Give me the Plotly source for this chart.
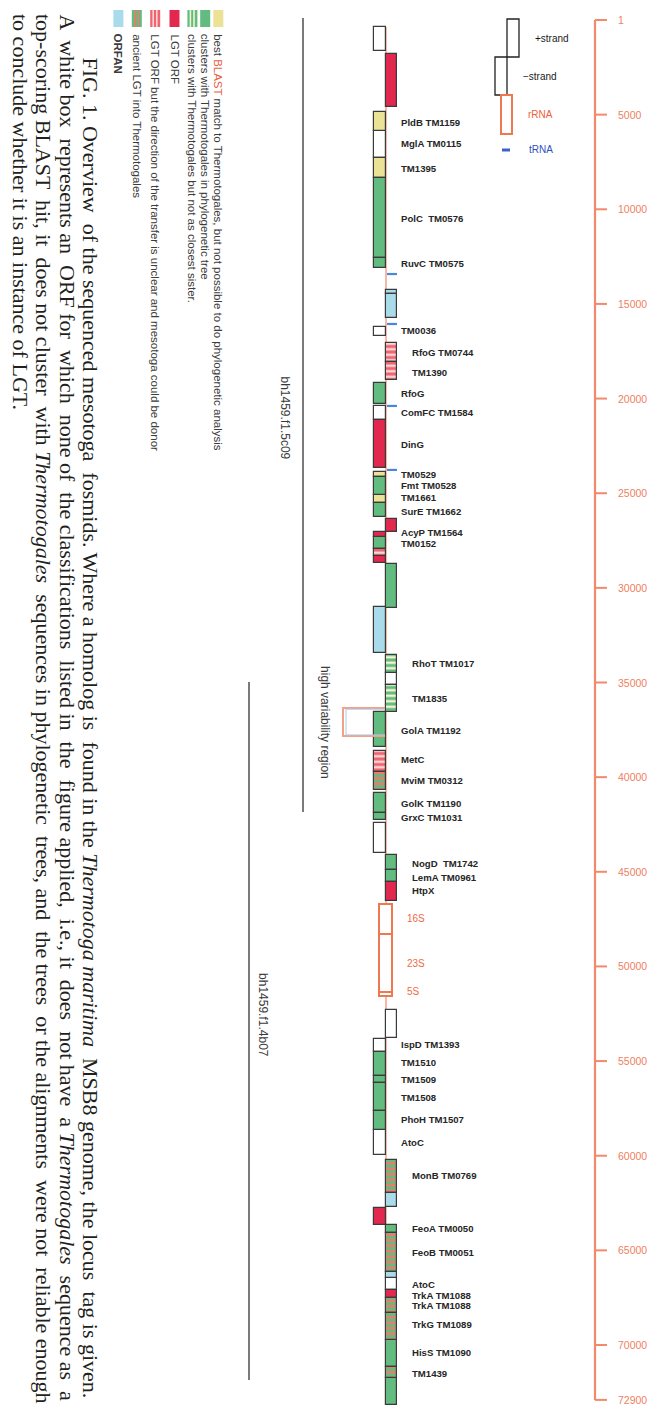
import plotly.graph_objects as go

W, H = 647, 1407

# ---------------- data (genomic positions in bp) ----------------
gene_start = [370, 1800, 4860, 5860, 7290, 8350, 12570, 14260, 14480, 16220,
              17060, 18070, 19180, 20390, 21130, 23880, 24140, 25090, 25520, 26360,
              27050, 27310, 27950, 28320, 28740, 31010, 33550, 34500, 35130, 36560,
              38620, 39730, 40840, 41890, 42420, 44110, 44910, 45540, 52300, 53830,
              54520, 55790, 56160, 57640, 58640, 60230, 61970, 62760, 63660, 64080,
              66140, 66460, 67090, 67520, 68310, 69740, 71160, 71740]
gene_end = [1640, 4600, 5860, 7290, 8350, 12570, 13100, 14480, 15740, 16690,
            18070, 19020, 20290, 21130, 23670, 24140, 25090, 25520, 26260, 27050,
            27310, 27950, 28320, 28690, 31060, 33440, 34500, 35130, 36560, 38410,
            39730, 40680, 41890, 42260, 44010, 44910, 45540, 46540, 53780, 54520,
            55790, 56160, 57640, 58640, 59960, 61970, 62710, 63660, 64080, 66140,
            66460, 67090, 67520, 68310, 69740, 71160, 71740, 73170]
gene_strand = ["-", "+", "-", "-", "-", "-", "-", "+", "+", "-",
               "+", "+", "-", "-", "-", "-", "-", "-", "-", "+",
               "-", "-", "-", "-", "+", "-", "+", "+", "+", "-",
               "-", "-", "-", "-", "-", "+", "+", "+", "+", "-",
               "-", "-", "-", "-", "-", "+", "+", "-", "+", "+",
               "+", "+", "+", "+", "+", "+", "+", "+"]
gene_class = ["none", "lgt", "blast", "none", "blast", "tree", "tree", "orfan", "orfan", "none",
              "unclear", "unclear", "tree", "none", "lgt", "blast", "tree", "blast", "tree", "lgt",
              "lgt", "tree", "unclear", "lgt", "tree", "orfan", "sister", "none", "sister", "tree",
              "unclear", "ancient", "tree", "tree", "none", "tree", "tree", "lgt", "none", "none",
              "tree", "tree", "tree", "tree", "none", "ancient", "orfan", "lgt", "tree", "ancient",
              "orfan", "none", "lgt", "ancient", "ancient", "tree", "ancient", "tree"]

label_text = ["PldB TM1159", "MglA TM0115", "TM1395", "PolC  TM0576", "RuvC TM0575",
              "TM0036", "RfoG TM0744", "TM1390", "RfoG", "ComFC TM1584", "DinG",
              "TM0529", "Fmt TM0528", "TM1661", "SurE TM1662", "AcyP TM1564", "TM0152",
              "RhoT TM1017", "TM1835", "GolA TM1192", "MetC", "MviM TM0312",
              "GolK TM1190", "GrxC TM1031", "NogD  TM1742", "LemA TM0961", "HtpX",
              "IspD TM1393", "TM1510", "TM1509", "TM1508", "PhoH TM1507", "AtoC",
              "MonB TM0769", "FeoA TM0050", "FeoB TM0051", "AtoC", "TrkA TM1088",
              "TrkA TM1088", "TrkG TM1089", "HisS TM1090", "TM1439"]
label_pos = [5390, 6500, 7820, 10510, 12840, 16380, 17540, 18600, 19710, 20760, 22400,
             23990, 24570, 25250, 25940, 27100, 27630, 33970, 35820, 37510, 39090, 40200,
             41370, 42110, 44540, 45280, 46010, 54150, 55100, 55950, 56900, 58060, 59280,
             61070, 63870, 65090, 66780, 67360, 67890, 68940, 70370, 71480]
label_strand = ["-", "-", "-", "-", "-", "-", "+", "+", "-", "-", "-",
                "-", "-", "-", "-", "-", "-", "+", "+", "-", "-", "-",
                "-", "-", "+", "+", "+", "-", "-", "-", "-", "-", "-",
                "+", "+", "+", "+", "+", "+", "+", "+", "+"]

trna_pos = [13420, 16060, 20390, 23770]

rrna_name = ["16S", "23S", "5S"]
rrna_start = [46700, 48290, 51350]
rrna_end = [48290, 51350, 51560]
rrna_label_pos = [47490, 49820, 51350]

ruler_ticks = [1, 5000, 10000, 15000, 20000, 25000, 30000, 35000, 40000,
               45000, 50000, 55000, 60000, 65000, 70000, 72900]
ruler_labels = ["1", "5000", "10000", "15000", "20000", "25000", "30000", "35000", "40000",
                "45000", "50000", "55000", "60000", "65000", "70000", "72900"]

fosmid_name = ["bh1459.f1.5c09", "bh1459.f1.4b07"]
fosmid_start = [-100, 34970]
fosmid_end = [41840, 71850]
fosmid_label_pos = [21000, 52570]

hv_start, hv_end = 36350, 37830

legend_class = ["blast", "tree", "sister", "lgt", "unclear", "ancient", "orfan"]
legend_text = [
    "best <span style='color:#e8603f'>BLAST</span> match to Thermotogales, but not possible to do phylogenetic analysis",
    "clusters with Thermotogales in phylogenetic tree",
    "clusters with Thermotogales but not as closest sister.",
    "LGT ORF",
    "LGT ORF but the direction of the transfer is unclear and mesotoga could be donor",
    "ancient LGT into Thermotogales",
    "<b>ORFAN</b>",
]

caption_lines = [
    "FIG. 1. Overview of the sequenced mesotoga fosmids. Where a homolog is found in the <i>Thermotoga maritima</i> MSB8 genome, the locus tag is given.",
    "A white box represents an ORF for which none of the classifications listed in the figure applied, i.e., it does not have a <i>Thermotogales</i> sequence as a",
    "top-scoring BLAST hit, it does not cluster with <i>Thermotogales</i> sequences in phylogenetic trees, and the trees or the alignments were not reliable enough",
    "to conclude whether it is an instance of LGT.",
]

# ---------------- styles ----------------
BP_PER_PX = 52.83
Y_TOP = -20 * BP_PER_PX
Y_BOT = (H - 20) * BP_PER_PX
LANE_X = {"-": 380.2, "+": 391.6}
LANE_W = 11.6
LABEL_X = {"-": 399, "+": 410}
OUTLINE = "#3a3a3a"
SALMON = "#f2896c"

STYLE = {
    "none":    dict(bg="#ffffff", fg=None),
    "blast":   dict(bg="#ebe296", fg=None),
    "tree":    dict(bg="#62bb7f", fg=None),
    "sister":  dict(bg="#62bb7f", fg="#f5f3cf"),
    "lgt":     dict(bg="#e3284f", fg=None),
    "unclear": dict(bg="#ef6470", fg="#fbd4d4"),
    "ancient": dict(bg="#62bb7f", fg="#f2786a"),
    "orfan":   dict(bg="#aadbea", fg=None),
}
# extra non-breaking spaces per caption line to imitate the justified setting
CAP_EXTRA = [5, 15, 9, 0]


def py(px):
    return 1 - px / H


def justify(txt, n_extra):
    parts = txt.split(" ")
    n_sp = len(parts) - 1
    if n_extra <= 0 or n_sp <= 0:
        return txt
    pick = {int((k + 0.5) * n_sp / n_extra) for k in range(n_extra)}
    out = parts[0]
    for i, p in enumerate(parts[1:]):
        out += (" &nbsp;" if i in pick else " ") + p
    return out


fig = go.Figure()

# genes as floating bars
for cls, st in STYLE.items():
    idx = [i for i, c in enumerate(gene_class) if c == cls]
    if not idx:
        continue
    marker = dict(color=st["bg"], line=dict(color=OUTLINE, width=1.2))
    if st["fg"]:
        marker["pattern"] = dict(shape="-", fillmode="replace", bgcolor=st["bg"],
                                 fgcolor=st["fg"], size=5.5, solidity=0.45)
    fig.add_trace(go.Bar(
        x=[LANE_X[gene_strand[i]] for i in idx],
        base=[gene_start[i] for i in idx],
        y=[gene_end[i] - gene_start[i] for i in idx],
        width=LANE_W, marker=marker, hoverinfo="skip", showlegend=False,
    ))

shapes = []
annos = []

# backbone
shapes.append(dict(type="line", xref="x", yref="y", x0=386, x1=386,
                   y0=gene_start[0], y1=gene_end[-1],
                   line=dict(color="#f4a088", width=1.5), layer="below"))

# tRNAs
for p in trna_pos:
    shapes.append(dict(type="line", xref="x", yref="y", x0=387, x1=397, y0=p, y1=p,
                       line=dict(color="#4a86dc", width=2.2)))

# rRNA operon
for nm, s, e, lp in zip(rrna_name, rrna_start, rrna_end, rrna_label_pos):
    shapes.append(dict(type="rect", xref="x", yref="y", x0=379, x1=392, y0=s, y1=e,
                       line=dict(color="#f07850", width=2), fillcolor="white"))
    annos.append(dict(x=405, y=lp, xref="x", yref="y", text=nm, showarrow=False,
                      xanchor="left", yanchor="middle",
                      font=dict(family="Liberation Sans", size=10, color="#f06a45")))

# gene labels
for t, p, s in zip(label_text, label_pos, label_strand):
    annos.append(dict(x=LABEL_X[s], y=p, xref="x", yref="y",
                      text="<b>" + t.replace("  ", "&nbsp;&nbsp;") + "</b>",
                      showarrow=False, xanchor="left", yanchor="middle",
                      font=dict(family="Liberation Sans", size=9.6, color="#262626")))

# ruler
shapes.append(dict(type="line", xref="x", yref="y", x0=595, x1=595,
                   y0=ruler_ticks[0], y1=ruler_ticks[-1], line=dict(color=SALMON, width=2.2)))
for t, lab in zip(ruler_ticks, ruler_labels):
    shapes.append(dict(type="line", xref="x", yref="y", x0=595, x1=607, y0=t, y1=t,
                       line=dict(color=SALMON, width=2)))
    annos.append(dict(x=616, y=t, xref="x", yref="y", text=lab, showarrow=False,
                      xanchor="left", yanchor="middle",
                      font=dict(family="Liberation Sans", size=10.5, color="#f0805f")))

# fosmids
fos_x = [303, 249]
fos_lab_x = [285, 263]
for nm, s, e, lp, fx, lx in zip(fosmid_name, fosmid_start, fosmid_end, fosmid_label_pos, fos_x, fos_lab_x):
    shapes.append(dict(type="line", xref="x", yref="y", x0=fx, x1=fx, y0=s, y1=e,
                       line=dict(color="#333333", width=1.3)))
    annos.append(dict(x=lx, y=lp, xref="x", yref="y", text=nm, showarrow=False,
                      textangle=90, xanchor="center", yanchor="middle",
                      font=dict(family="Liberation Sans", size=12, color="#3a3a3a")))

# high variability region bracket
shapes.append(dict(type="path", xref="x", yref="y",
                   path=f"M 385 {hv_start} L 343 {hv_start} L 343 {hv_end} L 385 {hv_end}",
                   line=dict(color="#f3a088", width=2)))
shapes.append(dict(type="path", xref="x", yref="y",
                   path=f"M 385 {hv_start + 60} L 346 {hv_start + 60} L 346 {hv_end - 60} L 385 {hv_end - 60}",
                   line=dict(color="#a9cbe6", width=1)))
annos.append(dict(x=325, y=(hv_start + hv_end) / 2, xref="x", yref="y",
                  text="high variability region", showarrow=False, textangle=90,
                  xanchor="center", yanchor="middle",
                  font=dict(family="Liberation Sans", size=12, color="#3a3a3a")))

# strand / RNA key
shapes.append(dict(type="rect", xref="x", yref="paper", x0=507, x1=519, y0=py(19), y1=py(57),
                   line=dict(color="#222", width=1.3)))
shapes.append(dict(type="rect", xref="x", yref="paper", x0=495, x1=507, y0=py(57), y1=py(95),
                   line=dict(color="#222", width=1.3)))
shapes.append(dict(type="rect", xref="x", yref="paper", x0=501, x1=512, y0=py(95), y1=py(134),
                   line=dict(color="#f07850", width=2)))
shapes.append(dict(type="line", xref="x", yref="paper", x0=502, x1=510, y0=py(150), y1=py(150),
                   line=dict(color="#3c62c8", width=3)))
for t, x, y, c in [("+strand", 533, 38, "#1a1a1a"), ("\u2212strand", 521, 77, "#1a1a1a"),
                   ("rRNA", 526, 114, "#f0603a"), ("tRNA", 527, 149, "#3050c0")]:
    annos.append(dict(x=x, y=py(y), xref="x", yref="paper", text=t, showarrow=False,
                      xanchor="left", yanchor="middle",
                      font=dict(family="Liberation Sans", size=10, color=c)))

# class legend (rotated)
leg_x = [218.3, 205.2, 192.4, 174.5, 155.2, 136.8, 118.4]
for cls, txt, lx in zip(legend_class, legend_text, leg_x):
    st = STYLE[cls]
    x0, x1 = lx - 5, lx + 5
    shapes.append(dict(type="rect", xref="x", yref="paper", x0=x0, x1=x1, y0=py(10), y1=py(27),
                       line=dict(width=0), fillcolor=st["bg"]))
    if st["fg"]:
        xs = x0 + 2.2
        while xs < x1 - 1:
            shapes.append(dict(type="rect", xref="x", yref="paper", x0=xs, x1=xs + 1.6,
                               y0=py(10), y1=py(27), line=dict(width=0), fillcolor=st["fg"]))
            xs += 3.6
    annos.append(dict(x=lx, y=py(32), xref="x", yref="paper", text=txt, showarrow=False,
                      textangle=90, xanchor="center", yanchor="top",
                      font=dict(family="Liberation Sans", size=11.5, color="#3c3c3c")))

# caption (rotated)
cap_x = [90, 67, 44, 21]
cap_y = [55, 12, 12, 12]
for txt, cx, cy, ne in zip(caption_lines, cap_x, cap_y, CAP_EXTRA):
    annos.append(dict(x=cx, y=py(cy), xref="x", yref="paper", text=justify(txt, ne),
                      showarrow=False, textangle=90, xanchor="center", yanchor="top",
                      font=dict(family="Liberation Serif", size=22, color="#231f20")))

fig.update_layout(
    width=W, height=H, margin=dict(l=0, r=0, t=0, b=0),
    paper_bgcolor="white", plot_bgcolor="white",
    barmode="overlay", bargap=0,
    xaxis=dict(range=[0, W], visible=False, fixedrange=True),
    yaxis=dict(range=[Y_BOT, Y_TOP], visible=False, fixedrange=True),
    shapes=shapes, annotations=annos, showlegend=False,
)
fig.write_html("out.html", config=dict(displayModeBar=False))
